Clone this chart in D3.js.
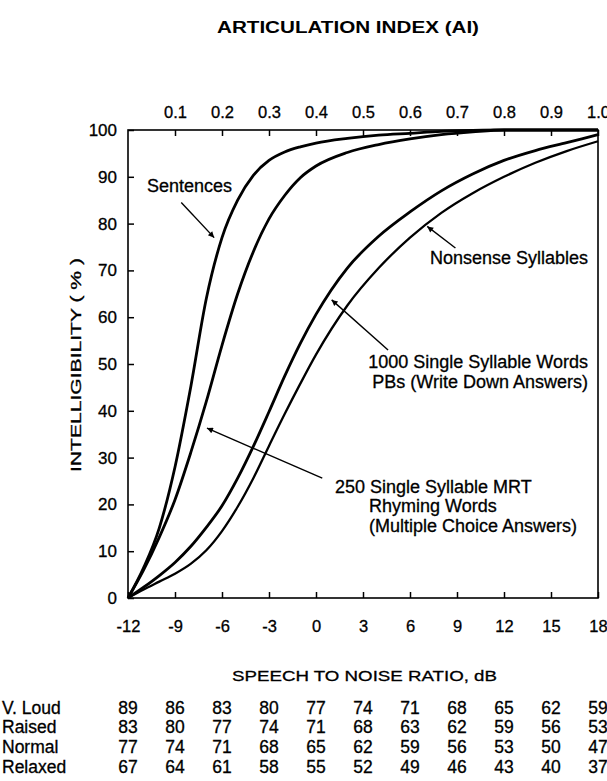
<!DOCTYPE html>
<html>
<head>
<meta charset="utf-8">
<script src="https://cdn.jsdelivr.net/npm/d3@7"></script>
<style>
  body { margin: 0; background: #fff; }
  svg { font-family: "Liberation Sans", Arial, sans-serif; }
  .lbl { font-size: 16px; fill: #000; stroke: #000; stroke-width: 0.3px; }
</style>
</head>
<body>
<div id="vis"></div>
<script>
// speech to noise ratio (dB) sample points and intelligibility (%)
const snr       = [-12, -11, -10, -9, -8, -7, -6, -5, -4, -3, -2, -1, 0, 2, 4, 6, 8, 10, 12, 14, 16, 18];
const sentences = [0, 6.5, 15, 28, 45, 64, 77, 85, 90.3, 93.5, 95.3, 96.4, 97.2, 98.2, 98.9, 99.3, 99.7, 99.9, 100, 100, 100, 100];
const mrtWords  = [0, 6, 13, 21, 31, 42, 54, 65, 74, 81, 86, 89.8, 92.3, 95.2, 96.9, 98.1, 99, 99.6, 100, 100, 100, 100];
const pbWords   = [0, 2.3, 4.8, 7.6, 11, 15.1, 19.7, 25.6, 32.4, 39.8, 47.4, 54.4, 60.6, 70.5, 77.3, 82.5, 87, 90.6, 93.5, 95.6, 97.3, 99];
const nonsense  = [0, 1.8, 3.5, 5.2, 7.3, 10.2, 14.3, 19.5, 25.6, 32.5, 39.3, 45.8, 52, 62.5, 70.5, 77, 82.3, 86.5, 90, 93, 95.5, 97.6];

const xTicks  = [-12, -9, -6, -3, 0, 3, 6, 9, 12, 15, 18];
const aiTicks = [0.1, 0.2, 0.3, 0.4, 0.5, 0.6, 0.7, 0.8, 0.9, 1.0];
const yTicks  = [0, 10, 20, 30, 40, 50, 60, 70, 80, 90, 100];

// voice level table (one value per x tick)
const rowLabels = ["V. Loud", "Raised", "Normal", "Relaxed"];
const vLoud   = [89, 86, 83, 80, 77, 74, 71, 68, 65, 62, 59];
const raised  = [83, 80, 77, 74, 71, 68, 63, 62, 59, 56, 53];
const normal  = [77, 74, 71, 68, 65, 62, 59, 56, 53, 50, 47];
const relaxed = [67, 64, 61, 58, 55, 52, 49, 46, 43, 40, 37];

// annotations: [text lines], arrow tail -> tip in data units
const notes = [
  {lines: ["Sentences"], x: 147, y: 192, anchor: "start", from: [-8.6, 84.5], to: [-6.5, 77]},
  {lines: ["Nonsense Syllables"], x: 588, y: 264, anchor: "end", from: [8.9, 74.8], to: [7.1, 79.4]},
  {lines: ["1000 Single Syllable Words", "PBs (Write Down Answers)"], x: 588, y: 368, anchor: "end", from: [4.6, 53], to: [1.0, 63.7]},
  {lines: ["250 Single Syllable MRT"], x: 335, y: 493, anchor: "start", from: [0.4, 25.6], to: [-6.96, 36.3]},
  {lines: ["Rhyming Words", "(Multiple Choice Answers)"], x: 369, y: 512, anchor: "start"}
];

const W = 607, H = 781;
const plotLeft = 128, plotRight = 598, plotTop = 130, plotBottom = 598;

const svg = d3.select('#vis')
    .append('svg')
    .attr('width', W)
    .attr('height', H);

let xScale = d3.scaleLinear().domain([-12, 18]).range([plotLeft, plotRight]);
let aiScale = d3.scaleLinear().domain([0, 1]).range([plotLeft, plotRight]);
let yScale = d3.scaleLinear().domain([0, 100]).range([plotBottom, plotTop]);

svg.append('defs').append('marker')
    .attr('id', 'arrow')
    .attr('viewBox', '0 0 10 10')
    .attr('refX', 10).attr('refY', 5)
    .attr('markerWidth', 9).attr('markerHeight', 6)
    .attr('markerUnits', 'userSpaceOnUse')
    .attr('orient', 'auto')
    .append('path')
    .attr('d', 'M0,0 L10,5 L0,10 Z')
    .attr('fill', '#000');

// axes with inward ticks
const tickLen = 6;
let xAxis = svg.append('g')
    .attr('transform', `translate(0,${plotBottom})`)
    .call(d3.axisBottom(xScale).tickValues(xTicks).tickSize(-tickLen).tickFormat(d => d));
let topAxis = svg.append('g')
    .attr('transform', `translate(0,${plotTop})`)
    .call(d3.axisTop(aiScale).tickValues(aiTicks).tickSize(-tickLen).tickFormat(d3.format('.1f')));
let yAxis = svg.append('g')
    .attr('transform', `translate(${plotLeft},0)`)
    .call(d3.axisLeft(yScale).tickValues(yTicks).tickSize(-tickLen).tickPadding(11));

[xAxis, topAxis, yAxis].forEach(a => {
  a.select('.domain').remove();
  a.selectAll('line').attr('stroke', '#000').attr('stroke-width', 1.5);
  a.selectAll('text').attr('class', 'lbl').attr('font-family', null);
});
xAxis.selectAll('text').style('font-size', '16.5px').attr('dy', '0.35em').attr('y', 28);
topAxis.selectAll('text').style('font-size', '16.5px').attr('dy', 0).attr('y', -12);
yAxis.selectAll('text').style('font-size', '17px');

// plot frame
svg.append('rect')
    .attr('x', plotLeft).attr('y', plotTop)
    .attr('width', plotRight - plotLeft).attr('height', plotBottom - plotTop)
    .attr('fill', 'none').attr('stroke', '#000').attr('stroke-width', 1.6);

// curves
const line = d3.line()
    .x((d, i) => xScale(snr[i]))
    .y(d => yScale(d))
    .curve(d3.curveMonotoneX);

svg.selectAll('path.curve')
    .data([sentences, mrtWords, pbWords, nonsense])
    .join('path')
    .attr('class', 'curve')
    .attr('d', d => line(d))
    .attr('fill', 'none')
    .attr('stroke', '#000')
    .attr('stroke-width', (d, i) => i === 3 ? 2.3 : 2.8)
    .attr('stroke-linejoin', 'round');

// annotations
notes.forEach(n => {
  const t = svg.append('text')
      .attr('class', 'lbl')
      .attr('text-anchor', n.anchor)
      .style('font-size', '18px');
  n.lines.forEach((s, i) => {
    t.append('tspan').attr('x', n.x).attr('y', n.y + i * 20).text(s);
  });
  if (n.from) {
    svg.append('line')
        .attr('x1', xScale(n.from[0])).attr('y1', yScale(n.from[1]))
        .attr('x2', xScale(n.to[0])).attr('y2', yScale(n.to[1]))
        .attr('stroke', '#000').attr('stroke-width', 1.4)
        .attr('marker-end', 'url(#arrow)');
  }
});

// titles
svg.append('text')
    .attr('x', 217).attr('y', 33)
    .attr('textLength', 262).attr('lengthAdjust', 'spacingAndGlyphs')
    .style('font-size', '16px').style('font-weight', 'bold')
    .text('ARTICULATION INDEX (AI)');

svg.append('text')
    .attr('class', 'lbl')
    .attr('x', 232).attr('y', 681)
    .attr('textLength', 265).attr('lengthAdjust', 'spacingAndGlyphs')
    .style('font-size', '15.5px')
    .text('SPEECH TO NOISE RATIO, dB');

svg.append('text')
    .attr('class', 'lbl')
    .attr('transform', 'translate(81,472) rotate(-90)')
    .attr('textLength', 214).attr('lengthAdjust', 'spacingAndGlyphs')
    .style('font-size', '15.5px')
    .text('INTELLIGIBILITY ( % )');

// voice level table
const rows = [vLoud, raised, normal, relaxed];
const rowY = [714, 733, 753, 773];
rows.forEach((vals, r) => {
  svg.append('text')
      .attr('class', 'lbl')
      .attr('x', 2).attr('y', rowY[r])
      .style('font-size', '17.5px')
      .text(rowLabels[r]);
  svg.selectAll(null)
      .data(vals)
      .join('text')
      .attr('class', 'lbl')
      .attr('x', (d, i) => xScale(xTicks[i]))
      .attr('y', rowY[r])
      .attr('text-anchor', 'middle')
      .style('font-size', '17.5px')
      .text(d => d);
});
</script>
</body>
</html>
